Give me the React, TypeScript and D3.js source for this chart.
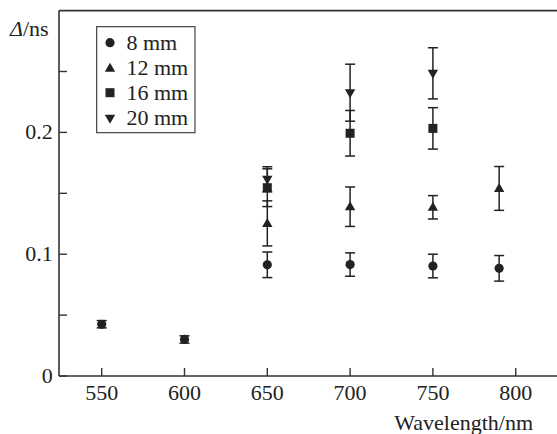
import React from "react";
import * as d3 from "d3";

const xTicks = [550, 600, 650, 700, 750, 800];
const yMajorTicks = [0, 0.1, 0.2];
const yMinorTicks = [0.05, 0.15, 0.25];

const wl8 = [550, 600, 650, 700, 750, 790];
const val8 = [0.0425, 0.03, 0.0913, 0.0915, 0.0903, 0.0884];
const err8 = [0.003, 0.003, 0.0105, 0.0096, 0.0097, 0.0105];

const wl12 = [650, 700, 750, 790];
const val12 = [0.1253, 0.139, 0.1385, 0.154];
const err12 = [0.0185, 0.0162, 0.0096, 0.018];

const wl16 = [650, 700, 750];
const val16 = [0.1546, 0.1993, 0.2033];
const err16 = [0.0155, 0.0187, 0.017];

const wl20 = [650, 700, 750];
const val20 = [0.1615, 0.2326, 0.2485];
const err20 = [0.0103, 0.0234, 0.021];

const seriesNames = ["8 mm", "12 mm", "16 mm", "20 mm"];
const seriesShapes = ["circle", "up", "square", "down"];

const W = 557;
const H = 434;
const INK = "#222";
const FONT = "Times New Roman";

const x = d3.scaleLinear().domain([550, 800]).range([101.7, 515.7]);
const y = d3.scaleLinear().domain([0, 0.3]).range([376, 10.6]);

function Marker({ shape, cx, cy }: { shape: string; cx: number; cy: number }) {
  if (shape === "circle") return <circle cx={cx} cy={cy} r={4.6} fill={INK} />;
  if (shape === "square")
    return <rect x={cx - 4.5} y={cy - 4.5} width={9} height={9} fill={INK} />;
  if (shape === "up") {
    const p = `M${cx - 5.2},${cy + 3.5}L${cx + 5.2},${cy + 3.5}L${cx},${cy - 5.5}Z`;
    return <path d={p} fill={INK} />;
  }
  const p = `M${cx - 5.2},${cy - 3.5}L${cx + 5.2},${cy - 3.5}L${cx},${cy + 5.5}Z`;
  return <path d={p} fill={INK} />;
}

function Series({ wl, val, err, shape }: { wl: number[]; val: number[]; err: number[]; shape: string }) {
  return (
    <g>
      {wl.map((w, i) => {
        const cx = x(w);
        const top = y(val[i] + err[i]);
        const bot = y(val[i] - err[i]);
        return (
          <g key={"e" + i} stroke={INK} strokeWidth={1.5}>
            <line x1={cx} x2={cx} y1={top} y2={bot} />
            <line x1={cx - 5} x2={cx + 5} y1={top} y2={top} />
            <line x1={cx - 5} x2={cx + 5} y1={bot} y2={bot} />
          </g>
        );
      })}
      {wl.map((w, i) => (
        <Marker key={"m" + i} shape={shape} cx={x(w)} cy={y(val[i])} />
      ))}
    </g>
  );
}

export default function App() {
  const left = 59;
  const right = 557;
  const top = y(0.3);
  const bottom = y(0);
  const legendRows = [42.7, 68.3, 92.7, 118.3];
  const ts = { fontFamily: `"${FONT}"`, fontSize: "22px" };
  return (
    <svg width={W} height={H} style={{ position: "absolute", left: 0, top: 0 }}>
      <rect x={0} y={0} width={W} height={H} fill="#fff" />
      <g stroke="#333" strokeWidth={1.6} fill="none">
        <line x1={left} x2={left} y1={top} y2={bottom} />
        <line x1={left} x2={right} y1={top} y2={top} />
        <line x1={left} x2={right} y1={bottom} y2={bottom} />
      </g>
      <g stroke="#333" strokeWidth={1.4}>
        {yMajorTicks.concat(yMinorTicks).map((t) => (
          <line key={"yt" + t} x1={left} x2={left + 8} y1={y(t)} y2={y(t)} />
        ))}
        {xTicks.map((t) => (
          <line key={"xt" + t} x1={x(t)} x2={x(t)} y1={bottom} y2={bottom - 8} />
        ))}
      </g>
      {yMajorTicks.map((t) => (
        <text key={"yl" + t} x={52.8} y={y(t) + 7} textAnchor="end" fill={INK} style={ts}>
          {t === 0 ? "0" : d3.format(".1f")(t)}
        </text>
      ))}
      {xTicks.map((t) => (
        <text key={"xl" + t} x={x(t)} y={400} textAnchor="middle" fill={INK} style={ts}>
          {String(t)}
        </text>
      ))}
      <text x={533} y={430} textAnchor="end" fill={INK} style={ts}>
        Wavelength/nm
      </text>
      <text x={10} y={36} fill={INK} style={ts}>
        <tspan fontStyle="italic">Δ</tspan>/ns
      </text>
      <Series wl={wl8} val={val8} err={err8} shape="circle" />
      <Series wl={wl12} val={val12} err={err12} shape="up" />
      <Series wl={wl16} val={val16} err={err16} shape="square" />
      <Series wl={wl20} val={val20} err={err20} shape="down" />
      <rect x={96.7} y={26.7} width={98.3} height={106} fill="#fff" stroke="#333" strokeWidth={1.1} />
      {seriesNames.map((n, i) => (
        <g key={n}>
          <Marker shape={seriesShapes[i]} cx={110} cy={legendRows[i]} />
          <text x={126.5} y={legendRows[i] + 7} fill={INK} style={ts}>
            {n}
          </text>
        </g>
      ))}
    </svg>
  );
}
